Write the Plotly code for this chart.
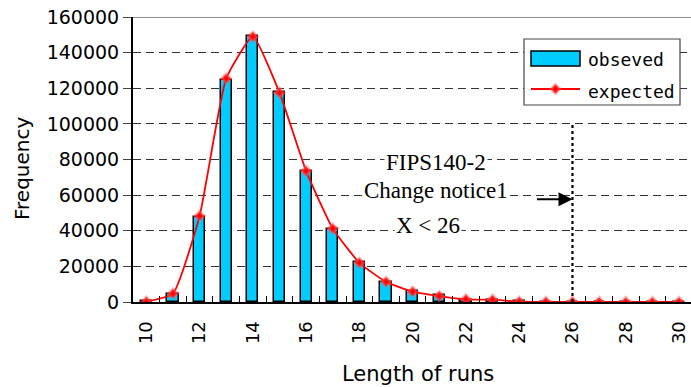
import plotly.graph_objects as go

# ---- data ----
run_length = list(range(10, 31))
observed = [300, 4500, 47900, 124500, 149500, 118000, 73800, 41000, 22500, 11500,
            6000, 3800, 1400, 1100, 300, 150, 80, 40, 20, 10, 5]
expected = [200, 4700, 48300, 125500, 149000, 117500, 73500, 41200, 22000, 11300,
            5800, 3300, 1500, 1300, 200, 100, 50, 25, 12, 6, 3]
y_ticks = [0, 20000, 40000, 60000, 80000, 100000, 120000, 140000, 160000]
x_ticks = list(range(10, 31, 2))
limit_x = 26
limit_top = 100000
note_lines = ["FIPS140-2", "Change notice1", "X < 26"]
series_names = ["obseved", "expected"]

W, H = 691, 387
L, R, T, B = 133, 0, 17, 85
PW, PH = W - L - R, H - T - B
XR = [9.5, 30.45]


def px(x):
    return (x - L) / PW


def py(y):
    return (H - B - y) / PH


fig = go.Figure()
fig.add_trace(go.Bar(
    x=run_length, y=observed, name=series_names[0], width=0.42,
    marker=dict(color="#00CCFF", line=dict(color="black", width=1.5)),
    showlegend=False,
))
fig.add_trace(go.Scatter(
    x=run_length, y=expected, name=series_names[1], mode="lines+markers",
    line=dict(color="#FF0000", width=1.8, shape="spline", smoothing=0.45),
    marker=dict(symbol="diamond", size=7, color="#FF0000",
                line=dict(color="rgba(255,90,90,0.45)", width=3)),
    showlegend=False,
))
# empty trace so the tick-only overlay axis is drawn
fig.add_trace(go.Scatter(x=[], y=[], xaxis="x2", yaxis="y", showlegend=False,
                         hoverinfo="skip"))

shapes = []
# top border
shapes.append(dict(type="line", xref="paper", yref="y", x0=0, x1=1, y0=160000, y1=160000,
                   line=dict(color="#6a6a6a", width=1.5)))
# dotted limit line
shapes.append(dict(type="line", xref="x", yref="y", x0=limit_x, x1=limit_x, y0=0, y1=limit_top,
                   line=dict(color="black", width=2.2, dash="dot")))
# manual legend
shapes.append(dict(type="rect", xref="paper", yref="paper", x0=px(524), x1=px(680), y0=py(105), y1=py(39),
                   line=dict(color="#444", width=1.2), fillcolor="white"))
shapes.append(dict(type="rect", xref="paper", yref="paper", x0=px(531), x1=px(580), y0=py(66), y1=py(51),
                   line=dict(color="black", width=1.5), fillcolor="#00CCFF"))
shapes.append(dict(type="line", xref="paper", yref="paper", x0=px(531), x1=px(580), y0=py(89), y1=py(89),
                   line=dict(color="#FF0000", width=1.8)))
cx, cy, r = 555.5, 89, 4.5
path = "M {},{} L {},{} L {},{} L {},{} Z".format(
    px(cx - r), py(cy), px(cx), py(cy - r), px(cx + r), py(cy), px(cx), py(cy + r))
shapes.append(dict(type="path", xref="paper", yref="paper", path=path,
                   fillcolor="#FF0000", line=dict(color="rgba(255,90,90,0.45)", width=3)))

annotations = []
annotations.append(dict(xref="paper", yref="paper", x=px(586), y=py(59), text=series_names[0],
                        showarrow=False, xanchor="left", yanchor="middle",
                        font=dict(family="DejaVu Sans Mono", size=18, color="black")))
annotations.append(dict(xref="paper", yref="paper", x=px(586), y=py(91), text=series_names[1],
                        showarrow=False, xanchor="left", yanchor="middle",
                        font=dict(family="DejaVu Sans Mono", size=18, color="black")))
# notes
note_pos = [(20.89, 78100), (20.89, 62400), (20.59, 43200)]
for txt, (nx, ny) in zip(note_lines, note_pos):
    annotations.append(dict(x=nx, y=ny, xref="x", yref="y", text=txt, showarrow=False,
                            bgcolor="white", borderpad=1,
                            font=dict(family="Liberation Serif", size=23, color="black")))
# arrow
annotations.append(dict(x=limit_x, y=57700, xref="x", yref="y", text="", showarrow=True,
                        ax=-37, ay=0, arrowhead=2, arrowsize=1.4, arrowwidth=2,
                        arrowcolor="black", standoff=0))
# axis titles
annotations.append(dict(xref="paper", yref="paper", x=px(22), y=py(169), text="Frequency",
                        textangle=-90, showarrow=False, xanchor="center", yanchor="middle",
                        font=dict(family="DejaVu Sans", size=20, color="black")))
annotations.append(dict(xref="paper", yref="paper", x=px(418), y=py(374), text="Length of runs",
                        showarrow=False, xanchor="center", yanchor="middle",
                        font=dict(family="DejaVu Sans", size=21, color="black")))

fig.update_layout(
    width=W, height=H, margin=dict(l=L, r=R, t=T, b=B),
    paper_bgcolor="white", plot_bgcolor="white",
    shapes=shapes, annotations=annotations, bargap=0,
    xaxis=dict(range=XR, tickmode="array", tickvals=x_ticks,
               ticktext=[str(v) for v in x_ticks], tickangle=-90, ticks="",
               ticklabelstandoff=10, ticklabeloverflow="allow", automargin=False,
               showline=True, linecolor="black", linewidth=2, showgrid=False, zeroline=False,
               tickfont=dict(family="DejaVu Sans", size=18, color="black")),
    xaxis2=dict(range=XR, overlaying="x", anchor="y", side="bottom",
                tickmode="array", tickvals=[v + 0.5 for v in run_length[:-1]],
                ticks="inside", ticklen=6, tickcolor="black", tickwidth=1,
                showticklabels=False, showgrid=False, zeroline=False, showline=False,
                automargin=False),
    yaxis=dict(range=[0, 160000], tickmode="array", tickvals=y_ticks,
               ticktext=[str(v) for v in y_ticks], ticks="outside", ticklen=8,
               tickcolor="#444", showline=True, linecolor="black", linewidth=2,
               showgrid=True, gridcolor="#333", griddash="8px,5px", gridwidth=1,
               zeroline=False, automargin=False,
               tickfont=dict(family="DejaVu Sans", size=19, color="black")),
)

fig.write_html("out.html")
